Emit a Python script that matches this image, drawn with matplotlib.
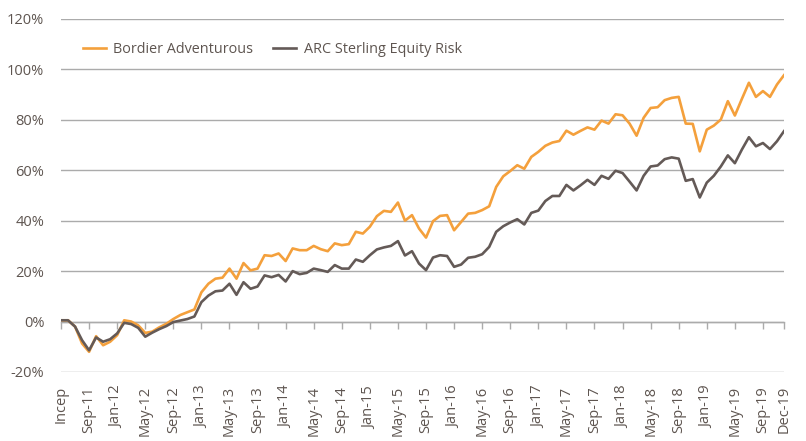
#!/usr/bin/env python
# -*- coding: utf-8 -*-

"""
Performance cumulée depuis le lancement : Bordier Adventurous vs ARC Sterling Equity Risk.
"""

import matplotlib
matplotlib.use("Agg")
import matplotlib.pyplot as plt
from matplotlib.ticker import FuncFormatter

# Données mensuelles (mai 2011 -> déc. 2019), en %
bordier = [
    0.5, 0.5, -2, -8.7, -12, -5.8, -9.4, -8, -5.4, 0.5,
    0, -1.5, -4.5, -4, -2.3, -0.9, 1, 2.6, 3.7, 4.8,
    11.6, 15, 17, 17.4, 21, 17, 23.2, 20.3, 21, 26.3,
    26, 27, 24, 29, 28.3, 28.3, 30, 28.7, 27.9, 31,
    30.3, 30.7, 35.6, 34.9, 37.6, 41.8, 43.9, 43.5, 47.2, 40,
    42.2, 36.9, 33.3, 39.8, 41.9, 42.2, 36.2, 39.5, 42.8, 43.1,
    44.2, 45.7, 53.4, 57.6, 59.7, 62, 60.6, 65.3, 67.3, 69.7,
    71, 71.6, 75.7, 74.1, 75.6, 77, 76.1, 79.7, 78.5, 82.2,
    81.8, 78.5, 73.7, 80.8, 84.7, 85, 87.8, 88.7, 89.1, 78.5,
    78.4, 67.5, 76.1, 77.7, 80.1, 87.4, 81.7, 88.3, 94.7, 89.1,
    91.4, 89.1, 94, 97.7,
]
arc = [
    0.5, 0.5, -2, -7.4, -11.4, -6.3, -8, -7, -4.7, -0.5,
    -1, -2.5, -6, -4.4, -3, -1.8, -0.2, 0.4, 1, 2,
    7.7, 10.3, 12, 12.3, 15, 10.6, 15.6, 13, 13.9, 18.3,
    17.6, 18.5, 15.9, 20, 18.8, 19.3, 21, 20.4, 19.7, 22.4,
    21, 21, 24.6, 23.7, 26.3, 28.6, 29.4, 30, 31.9, 26.2,
    27.9, 23, 20.4, 25.4, 26.3, 26, 21.7, 22.6, 25.3, 25.7,
    26.7, 29.6, 35.6, 37.8, 39.3, 40.6, 38.5, 43.1, 44, 47.8,
    49.8, 49.8, 54.2, 52, 54, 56.2, 54.2, 57.8, 56.6, 59.8,
    58.9, 55.5, 52, 57.8, 61.5, 61.9, 64.4, 65.1, 64.6, 55.8,
    56.5, 49.2, 55.1, 57.8, 61.5, 65.9, 62.8, 68.2, 73.1, 69.5,
    70.8, 68.4, 71.5, 75.5,
]

# Libellés de l'axe des x (un tous les 4 mois, plus le dernier mois)
tick_labels = [
    "Incep", "Sep-11", "Jan-12", "May-12", "Sep-12", "Jan-13", "May-13",
    "Sep-13", "Jan-14", "May-14", "Sep-14", "Jan-15", "May-15", "Sep-15",
    "Jan-16", "May-16", "Sep-16", "Jan-17", "May-17", "Sep-17", "Jan-18",
    "May-18", "Sep-18", "Jan-19", "May-19", "Sep-19", "Dec-19",
]
series_names = ["Bordier Adventurous", "ARC Sterling Equity Risk"]

ORANGE = "#F4A03C"
DARK = "#645A57"
GRID = "#ABABAB"
TEXT = "#5E5550"

plt.rcParams["font.family"] = ["Open Sans", "DejaVu Sans"]


def main():
    fig = plt.figure(figsize=(8.06, 4.41), dpi=100)
    ax = fig.add_axes([0.0757, 0.1565, 0.897, 0.8005])

    n = len(bordier)
    x = list(range(n))
    ax.plot(x, bordier, color=ORANGE, lw=1.9, label=series_names[0], zorder=3)
    ax.plot(x, arc, color=DARK, lw=1.9, label=series_names[1], zorder=4)

    ax.set_xlim(0, n - 1)
    ax.set_ylim(-20, 120)
    ax.set_yticks(range(-20, 121, 20))
    ax.yaxis.set_major_formatter(FuncFormatter(lambda v, _: f"{v:.0f}%"))
    ax.grid(axis="y", color=GRID, lw=1.0)
    ax.set_axisbelow(True)
    for s in ax.spines.values():
        s.set_visible(False)
    ax.tick_params(axis="y", length=0, pad=12, labelsize=10.5, labelcolor=TEXT)

    # Positions des libellés
    positions = list(range(0, n - 1, 4)) + [n - 1]
    ax.set_xticks(positions)
    ax.set_xticklabels(tick_labels, rotation=90, fontsize=10.5, color=TEXT)
    ax.tick_params(axis="x", length=0, pad=10)

    # Axe à 0 % avec petites graduations vers le bas
    sec = ax.secondary_xaxis(20 / 140)
    sec.set_xticks(positions)
    sec.set_xticklabels([])
    sec.tick_params(axis="x", length=5, width=1.0, color=GRID, direction="out")
    sec.spines["bottom"].set_color(GRID)
    sec.spines["bottom"].set_linewidth(1.0)

    ax.legend(loc="upper left", bbox_to_anchor=(0.012, 0.972), ncol=2,
              frameon=False, fontsize=10.4, labelcolor=TEXT,
              handlelength=1.6, columnspacing=1.4, handletextpad=0.5)

    fig.savefig("out.png", dpi=100)
    plt.close(fig)


if __name__ == "__main__":
    main()
